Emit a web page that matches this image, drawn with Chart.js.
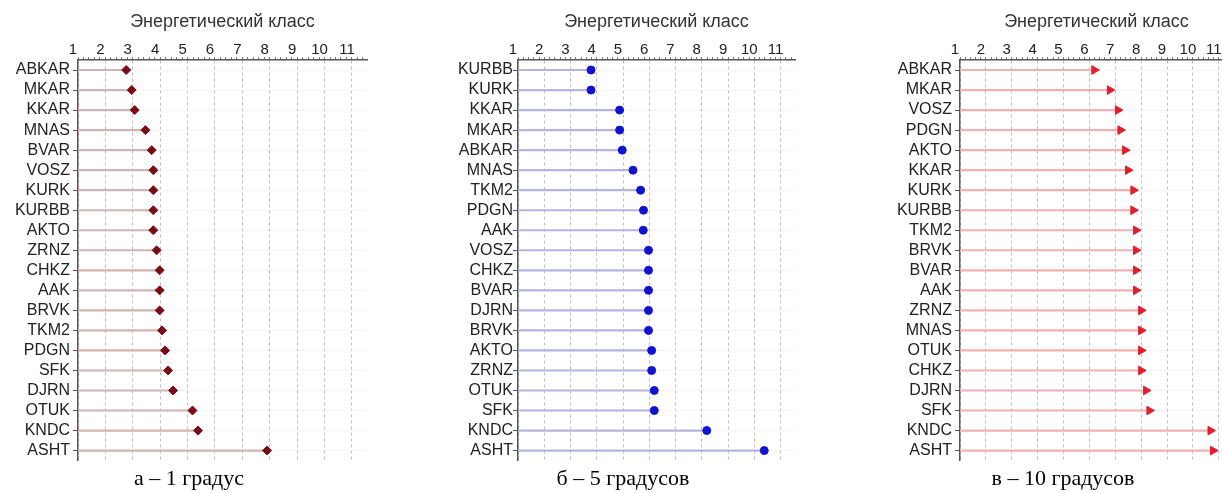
<!DOCTYPE html>
<html>
<head>
<meta charset="utf-8">
<script src="https://cdn.jsdelivr.net/npm/chart.js@4.4.1/dist/chart.umd.min.js"></script>
<style>
  html, body { margin: 0; padding: 0; background: #fff; overflow: hidden; }
  body { width: 1222px; height: 493px; position: relative; }
  canvas { position: absolute; top: 0; }
</style>
</head>
<body>
<canvas id="chartA" width="378" height="493" style="left:0px"></canvas>
<canvas id="chartB" width="366" height="493" style="left:440px"></canvas>
<canvas id="chartC" width="362" height="493" style="left:882px"></canvas>
<script>
// energy class per station, three angular distances
const stationsA = ["ABKAR", "MKAR", "KKAR", "MNAS", "BVAR", "VOSZ", "KURK", "KURBB", "AKTO", "ZRNZ",
  "CHKZ", "AAK", "BRVK", "TKM2", "PDGN", "SFK", "DJRN", "OTUK", "KNDC", "ASHT"];
const energyA = [2.76, 2.96, 3.07, 3.46, 3.69, 3.75, 3.75, 3.75, 3.75, 3.87,
  3.98, 3.98, 3.98, 4.07, 4.18, 4.29, 4.47, 5.18, 5.38, 7.9];

const stationsB = ["KURBB", "KURK", "KKAR", "MKAR", "ABKAR", "MNAS", "TKM2", "PDGN", "AAK", "VOSZ",
  "CHKZ", "BVAR", "DJRN", "BRVK", "AKTO", "ZRNZ", "OTUK", "SFK", "KNDC", "ASHT"];
const energyB = [3.78, 3.78, 4.87, 4.87, 4.97, 5.38, 5.67, 5.78, 5.77, 5.97,
  5.97, 5.97, 5.97, 5.97, 6.09, 6.09, 6.19, 6.19, 8.19, 10.38];

const stationsC = ["ABKAR", "MKAR", "VOSZ", "PDGN", "AKTO", "KKAR", "KURK", "KURBB", "TKM2", "BRVK",
  "BVAR", "AAK", "ZRNZ", "MNAS", "OTUK", "CHKZ", "DJRN", "SFK", "KNDC", "ASHT"];
const energyC = [6.19, 6.79, 7.1, 7.2, 7.38, 7.49, 7.7, 7.7, 7.8, 7.8,
  7.8, 7.8, 8.0, 8.0, 8.0, 8.0, 8.19, 8.32, 10.68, 10.78];

const classTicks = [1, 2, 3, 4, 5, 6, 7, 8, 9, 10, 11];
const axisTitle = "Энергетический класс";

const sans = "'Liberation Sans', Arial, sans-serif";
const serif = "'Liberation Serif', 'Times New Roman', serif";

function isMajor(v) {
  return Math.abs(v - Math.round(v)) < 1e-6;
}

function makeChart(id, stations, values, caption, look) {
  const ctx = document.getElementById(id).getContext("2d");
  return new Chart(ctx, {
    type: "bar",
    data: {
      labels: stations,
      datasets: [
        {
          type: "line",
          indexAxis: "y",
          data: values,
          showLine: false,
          pointStyle: look.pointStyle,
          rotation: look.rotation || 0,
          pointRadius: look.radius,
          pointBackgroundColor: look.marker,
          pointBorderColor: look.marker,
          pointBorderWidth: 1,
        },
        {
          type: "bar",
          indexAxis: "y",
          data: values.map((v) => [1, v]),
          backgroundColor: look.stem,
          borderWidth: 0,
          barThickness: 1.5,
        },
      ],
    },
    options: {
      indexAxis: "y",
      responsive: false,
      animation: false,
      layout: { padding: { left: 11, right: 11, top: 0, bottom: 0 } },
      plugins: {
        legend: { display: false },
        tooltip: { enabled: false },
        title: {
          display: true,
          position: "bottom",
          text: caption,
          color: "#000",
          font: { family: serif, size: 22, weight: "normal" },
          padding: { top: 5, bottom: 1 },
        },
      },
      scales: {
        x: {
          type: "linear",
          position: "top",
          min: 1,
          max: 11.55,
          afterBuildTicks: (s) => {
            let t = [];
            for (let k = 0; k <= 52; k++) t.push({ value: Math.round((1 + k * 0.2) * 10) / 10 });
            s.ticks = t;
          },
          afterFit: (s) => {
            s.height = 60;
          },
          border: { color: "#555", width: 1.5, dash: [3, 3] },
          grid: {
            color: (c) => (c.tick && isMajor(c.tick.value) ? "#bdbdbd" : "rgba(0,0,0,0)"),
            tickColor: "#777",
            tickLength: 3,
            lineWidth: 1,
          },
          ticks: {
            autoSkip: false,
            maxRotation: 0,
            padding: -2,
            labelOffset: -5,
            color: "#222",
            font: { family: sans, size: 15 },
            callback: (v) => (isMajor(v) && classTicks.includes(Math.round(v)) ? String(Math.round(v)) : ""),
          },
          title: {
            display: true,
            text: axisTitle,
            color: "#333",
            font: { family: sans, size: 18 },
            padding: { top: 11, bottom: 0 },
          },
        },
        y: {
          type: "category",
          offset: true,
          afterFit: (s) => {
            s.width = 67;
          },
          border: { color: "#555", width: 1.5, dash: [2, 2] },
          grid: {
            offset: false,
            color: "#eaeaea",
            tickColor: "#555",
            tickLength: 5,
          },
          ticks: {
            autoSkip: false,
            padding: look.labelPad,
            color: "#222",
            font: { family: sans, size: 16 },
          },
        },
      },
    },
  });
}

makeChart("chartA", stationsA, energyA, "а – 1 градус", {
  pointStyle: "rectRot", radius: 4.5, marker: "#7a0c16", stem: "#d2b4b4", labelPad: 3,
});
makeChart("chartB", stationsB, energyB, "б – 5 градусов", {
  pointStyle: "circle", radius: 4, marker: "#1212d2", stem: "#b4b6e0", labelPad: 0,
});
makeChart("chartC", stationsC, energyC, "в – 10 градусов", {
  pointStyle: "triangle", rotation: 90, radius: 5, marker: "#e01f2d", stem: "#f2b0b5", labelPad: 3,
});
</script>
</body>
</html>
